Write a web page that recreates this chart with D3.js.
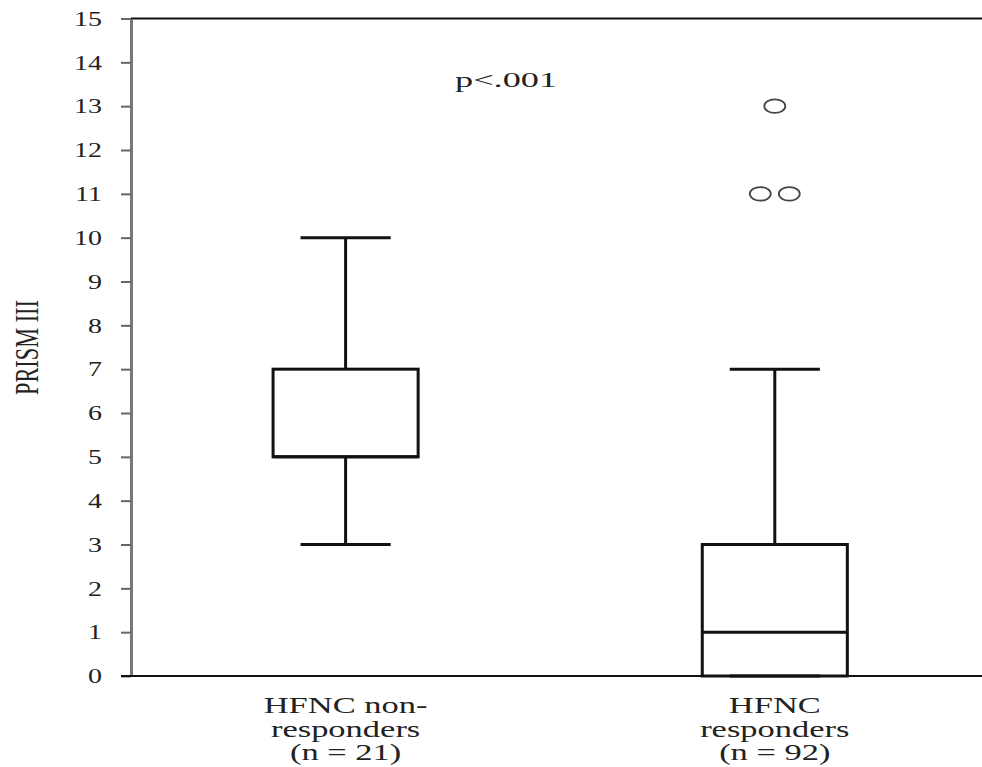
<!DOCTYPE html>
<html><head><meta charset="utf-8">
<script src="https://cdn.jsdelivr.net/npm/d3@7"></script>
<style>body{margin:0;background:#fff}svg{display:block}text{font-family:"Liberation Serif","Times New Roman",serif;fill:#222}</style>
</head><body>
<svg id="c" width="982" height="767"></svg>
<script>
const categories = ["nonresp", "resp"];
const labelLines = [["HFNC non-", "responders", "(n = 21)"], ["HFNC", "responders", "(n = 92)"]];
const whiskerLow = [3, 0];
const q1 = [5, 0];
const median = [5, 1];
const q3 = [7, 3];
const whiskerHigh = [10, 7];
const outlierCat = ["resp", "resp", "resp"];
const outlierVal = [13, 11, 11];
const outlierOffset = [0, -1, 1];
const yTicks = d3.range(0, 16);
const pText = "p<.001";
const yLabel = "PRISM III";

(function () {
const svg = d3.select("#c");
const pLeft = 131, pRight = 989.4, pTop = 18.5, pBottom = 676;
const y = d3.scaleLinear().domain([0, 15]).range([pBottom, pTop]);
const x = d3.scaleBand().domain(categories).range([pLeft, pRight]);
const boxW = x.bandwidth() * 0.338, capW = x.bandwidth() * 0.105;
const cx = c => x(c) + x.bandwidth() / 2;

svg.append("line").attr("x1", pLeft).attr("x2", 982).attr("y1", y(15)).attr("y2", y(15))
  .attr("stroke", "#111").attr("stroke-width", 2);

const sx = 1.4;
const ya = svg.append("g").attr("transform", `translate(${pLeft},0)`)
  .call(d3.axisLeft(y).tickValues(yTicks).tickSize(10).tickPadding(0).tickSizeOuter(0));
ya.select(".domain").attr("stroke", "#777").attr("stroke-width", 3);
ya.selectAll(".tick line").attr("stroke", "#666").attr("stroke-width", 2);
ya.selectAll(".tick text").attr("x", -29 / sx).attr("dy", "0.34em")
  .attr("transform", `scale(${sx},1)`).style("font-size", "20px").style("font-family", "Liberation Serif").attr("fill", "#222");

svg.append("line").attr("x1", 121).attr("x2", 982).attr("y1", y(0)).attr("y2", y(0))
  .attr("stroke", "#111").attr("stroke-width", 2);

const g = svg.append("g").attr("stroke", "#111").attr("stroke-width", 3).attr("fill", "none");
categories.forEach((c, i) => {
  const m = cx(c);
  g.append("line").attr("x1", m).attr("x2", m).attr("y1", y(whiskerHigh[i])).attr("y2", y(q3[i]));
  g.append("line").attr("x1", m).attr("x2", m).attr("y1", y(whiskerLow[i])).attr("y2", y(q1[i]));
  g.append("line").attr("x1", m - capW).attr("x2", m + capW).attr("y1", y(whiskerHigh[i])).attr("y2", y(whiskerHigh[i]));
  g.append("line").attr("x1", m - capW).attr("x2", m + capW).attr("y1", y(whiskerLow[i])).attr("y2", y(whiskerLow[i]));
  g.append("rect").attr("x", m - boxW / 2).attr("width", boxW)
    .attr("y", y(q3[i])).attr("height", y(q1[i]) - y(q3[i]));
  g.append("line").attr("x1", m - boxW / 2).attr("x2", m + boxW / 2).attr("y1", y(median[i])).attr("y2", y(median[i]));
});

svg.append("g").selectAll("ellipse").data(outlierVal).join("ellipse")
  .attr("cx", (d, i) => cx(outlierCat[i]) + outlierOffset[i] * 14.5)
  .attr("cy", d => y(d)).attr("rx", 10.5).attr("ry", 6.8)
  .attr("fill", "none").attr("stroke", "#444").attr("stroke-width", 1.8);

const lsx = 1.5;
categories.forEach((c, i) => {
  labelLines[i].forEach((t, j) => {
    svg.append("text").attr("text-anchor", "middle")
      .attr("transform", `translate(${cx(c)},${713 + j * 23.5}) scale(${lsx},1)`)
      .style("font-size", "23px").text(t);
  });
});

svg.append("text").attr("transform", `translate(455,87) scale(1.65,1)`)
  .style("font-size", "22px").text(pText);

svg.append("text").attr("transform", "translate(38,347.5) rotate(-90)")
  .attr("text-anchor", "middle").style("font-size", "34px")
  .attr("textLength", 95).attr("lengthAdjust", "spacingAndGlyphs").text(yLabel);
})();
</script>
</body></html>
